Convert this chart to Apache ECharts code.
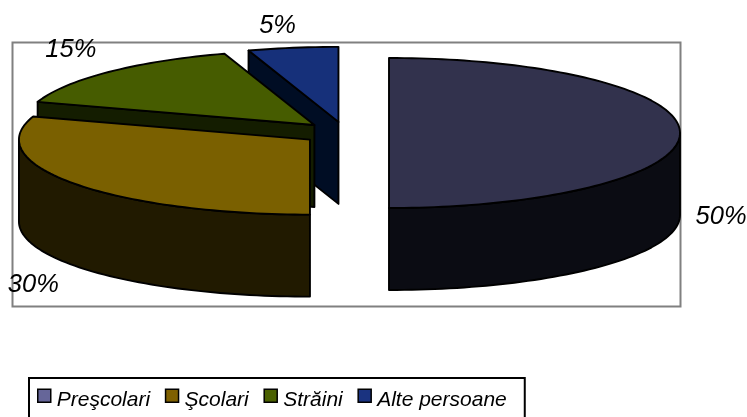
<!DOCTYPE html>
<html>
<head>
<meta charset="utf-8">
<style>html,body{margin:0;padding:0;background:#fff}#chart{width:747px;height:417px}</style>
<script src="https://cdn.jsdelivr.net/npm/echarts@6/dist/echarts.min.js"></script>
</head>
<body>
<div id="chart"></div>
<script>
const categories = ['Preşcolari', 'Şcolari', 'Străini', 'Alte persoane'];
const shares = [50, 30, 15, 5];

const legendColors = ['#666699', '#7f6000', '#4a6000', '#1a3380'];
const topColors = ['#32324d', '#7a6000', '#465c00', '#16307a'];
const sideColors = ['#0b0c13', '#211a00', '#141d00', '#000d24'];

// pie geometry, worked out from the picture
const cx = 345.3, cy = 133, rx = 291, ry = 75, depth = 82, explode = 43.7;
const labelNudge = [[-1, 2], [2, 2], [0.5, -2], [-3, 6]];
const font = 'Liberation Sans';

const rad = d => d * Math.PI / 180;
const total = shares.reduce((a, b) => a + b, 0);

function rimPoint(c, deg, dy) {
  return [c[0] + rx * Math.sin(rad(deg)), c[1] - ry * Math.cos(rad(deg)) + (dy || 0)];
}

function arcPoints(c, from, to, dy) {
  const pts = [];
  const n = Math.max(2, Math.ceil(Math.abs(to - from) / 1.5));
  for (let i = 0; i <= n; i++) pts.push(rimPoint(c, from + (to - from) * i / n, dy));
  return pts;
}

function renderSlice(params, api) {
  const i = params.seriesIndex;
  const value = api.value(0);
  const before = shares.slice(0, i).reduce((a, b) => a + b, 0);
  const a0 = before / total * 360;
  const a1 = a0 + value / total * 360;
  const mid = (a0 + a1) / 2;
  const c = [
    cx + explode * Math.sin(rad(mid)),
    cy - explode * ry / rx * Math.cos(rad(mid))
  ];
  const line = { stroke: '#000', lineWidth: 1.9, lineJoin: 'round' };
  const side = Object.assign({ fill: sideColors[i] }, line);
  const children = [];

  // radial faces, only the ones turned to the viewer
  [[a0, a0 - 90], [a1, a1 + 90]].forEach(([a, normal]) => {
    if (Math.cos(rad(normal)) > -1e-6) return;
    const p = rimPoint(c, a);
    children.push({
      type: 'polygon',
      shape: { points: [c, p, [p[0], p[1] + depth], [c[0], c[1] + depth]] },
      style: side
    });
  });

  // outer wall, front half only
  const w0 = Math.max(a0, 90), w1 = Math.min(a1, 270);
  if (w1 > w0) {
    children.push({
      type: 'polygon',
      shape: { points: arcPoints(c, w0, w1).concat(arcPoints(c, w1, w0, depth)) },
      style: side
    });
  }

  children.push({
    type: 'polygon',
    shape: { points: [c].concat(arcPoints(c, a0, a1)) },
    style: Object.assign({ fill: topColors[i] }, line)
  });

  children.push({
    type: 'text',
    style: {
      text: value + '%',
      x: c[0] + 1.162 * rx * Math.sin(rad(mid)) - 5 + labelNudge[i][0],
      y: c[1] - 1.38 * ry * Math.cos(rad(mid)) + (Math.cos(rad(mid)) < 0.01 ? depth : 0) + labelNudge[i][1],
      fill: '#000',
      font: 'italic 25.5px "' + font + '"',
      align: 'center',
      verticalAlign: 'middle'
    }
  });

  return { type: 'group', children };
}

const chart = echarts.init(document.getElementById('chart'), null, { renderer: 'canvas' });

chart.setOption({
  animation: false,
  backgroundColor: '#fff',
  legend: {
    left: 29,
    top: 378,
    orient: 'horizontal',
    icon: 'rect',
    itemWidth: 13,
    itemHeight: 13,
    itemGap: 14.7,
    padding: [10.5, 18, 16, 8],
    borderColor: '#000',
    borderWidth: 2,
    selectedMode: false,
    data: categories.map((name, i) => ({
      name,
      itemStyle: { color: legendColors[i], borderColor: '#000', borderWidth: 1.5 }
    })),
    // the spacer token pushes the name a little below the swatch centre
    formatter: '{s| }{t|{name}}',
    textStyle: {
      rich: {
        s: { fontSize: 1, lineHeight: 29, width: 1 },
        t: { color: '#000', fontFamily: font, fontStyle: 'italic', fontSize: 21, verticalAlign: 'bottom' }
      }
    }
  },
  graphic: [{
    type: 'rect',
    z: 0,
    shape: { x: 12.5, y: 42.5, width: 668, height: 264 },
    style: { fill: 'none', stroke: '#808080', lineWidth: 2 }
  }],
  series: categories.map((name, i) => ({
    name,
    type: 'custom',
    coordinateSystem: 'none',
    z: 10 + categories.length - i,
    itemStyle: { color: legendColors[i] },
    renderItem: renderSlice,
    data: [[shares[i]]]
  }))
});
</script>
</body>
</html>
